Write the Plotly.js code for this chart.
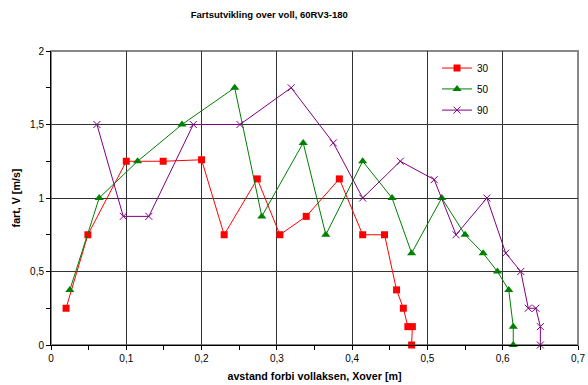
<!DOCTYPE html>
<html>
<head>
<meta charset="utf-8">
<script src="https://cdn.plot.ly/plotly-3.0.1.min.js"></script>
<style>html,body{margin:0;padding:0;background:#fff}#chart{width:588px;height:385px}</style>
</head>
<body>
<div id="chart"></div>
<script>
// Series 30
const x30 = [0.020, 0.049, 0.100, 0.149, 0.200, 0.230, 0.274, 0.304, 0.339, 0.383, 0.414, 0.443, 0.459, 0.468, 0.474, 0.480, 0.479];
const y30 = [0.25, 0.75, 1.25, 1.25, 1.26, 0.75, 1.13, 0.75, 0.875, 1.13, 0.75, 0.75, 0.375, 0.25, 0.125, 0.125, 0];
// Series 50
const x50 = [0.025, 0.064, 0.115, 0.174, 0.244, 0.280, 0.335, 0.365, 0.414, 0.453, 0.479, 0.519, 0.550, 0.574, 0.593, 0.608, 0.614, 0.614];
const y50 = [0.375, 1.0, 1.25, 1.5, 1.75, 0.875, 1.375, 0.75, 1.25, 1.0, 0.625, 1.0, 0.75, 0.625, 0.5, 0.375, 0.125, 0];
// Series 90
const x90 = [0.061, 0.096, 0.130, 0.189, 0.251, 0.319, 0.375, 0.414, 0.464, 0.509, 0.538, 0.579, 0.604, 0.624, 0.634, 0.644, 0.650, 0.650];
const y90 = [1.5, 0.875, 0.875, 1.5, 1.5, 1.75, 1.375, 1.0, 1.25, 1.125, 0.75, 1.0, 0.625, 0.5, 0.25, 0.25, 0.125, 0];

const seriesNames = ['30', '50', '90'];
const xTickVals = [0, 0.1, 0.2, 0.3, 0.4, 0.5, 0.6, 0.7];
const yTickVals = [0, 0.5, 1, 1.5, 2];

const font = 'Liberation Sans, Arial, sans-serif';

const traces = [
  {x: x30, y: y30, name: seriesNames[0], mode: 'lines+markers', cliponaxis: false, legend: 'legend',
   line: {color: '#FF0000', width: 1}, marker: {symbol: 'square', size: 7, color: '#FF0000'}},
  {x: x50, y: y50, name: seriesNames[1], mode: 'lines+markers', cliponaxis: false, legend: 'legend2',
   line: {color: '#008000', width: 1}, marker: {symbol: 'triangle-up', size: 8, color: '#008000'}},
  {x: x90, y: y90, name: seriesNames[2], mode: 'lines+markers', cliponaxis: false, legend: 'legend3',
   line: {color: '#800080', width: 1}, marker: {symbol: 'x-thin-open', size: 7, color: '#800080', line: {color: '#800080', width: 1}}}
];

const legendBase = {x: 0.7325, xanchor: 'left', yanchor: 'middle', bgcolor: 'rgba(0,0,0,0)', borderwidth: 0,
  font: {family: font, size: 10, color: '#000'}};

const layout = {
  width: 588, height: 385,
  margin: {l: 51, r: 10, t: 51, b: 40},
  paper_bgcolor: '#fff', plot_bgcolor: '#fff',
  separators: ', ',
  font: {family: font, size: 10, color: '#000'},
  title: {text: '<b>Fartsutvikling over voll, 60RV3-180</b>', font: {family: font, size: 9.5, color: '#000'},
          xref: 'container', x: 0.458, xanchor: 'center', yref: 'container', y: 0.961, yanchor: 'middle'},
  xaxis: {
    range: [0, 0.7], tickvals: xTickVals, ticktext: xTickVals.map(v => String(v).replace('.', ',')),
    showgrid: true, gridcolor: '#333', gridwidth: 1, zeroline: false,
    showline: true, linecolor: '#000', linewidth: 1,
    ticks: 'outside', ticklen: 4, tickcolor: '#000',
    minor: {dtick: 0.05, ticks: 'outside', ticklen: 4, tickcolor: '#000', showgrid: false},
    tickfont: {family: font, size: 10},
    title: {text: '<b>avstand forbi vollaksen, Xover [m]</b>', font: {family: font, size: 10.7}, standoff: 9},
    automargin: false
  },
  yaxis: {
    range: [0, 2], tickvals: yTickVals, ticktext: yTickVals.map(v => String(v).replace('.', ',')),
    showgrid: true, gridcolor: '#333', gridwidth: 1, zeroline: false,
    showline: true, linecolor: '#000', linewidth: 1,
    ticks: 'outside', ticklen: 4, tickcolor: '#000',
    minor: {dtick: 0.25, ticks: 'outside', ticklen: 4, tickcolor: '#000', showgrid: false},
    tickfont: {family: font, size: 10},
    title: {text: '<b>fart, V [m/s]</b>', font: {family: font, size: 10.7}, standoff: 7},
    automargin: false
  },
  shapes: [{type: 'rect', xref: 'paper', yref: 'paper', x0: 0, x1: 1, y0: 0, y1: 1,
            line: {color: '#888', width: 2}, layer: 'below'}],
  legend: Object.assign({}, legendBase, {y: 0.942}),
  legend2: Object.assign({}, legendBase, {y: 0.871}),
  legend3: Object.assign({}, legendBase, {y: 0.799}),
  showlegend: true
};

Plotly.newPlot('chart', traces, layout, {displayModeBar: false, staticPlot: true});
</script>
</body>
</html>
